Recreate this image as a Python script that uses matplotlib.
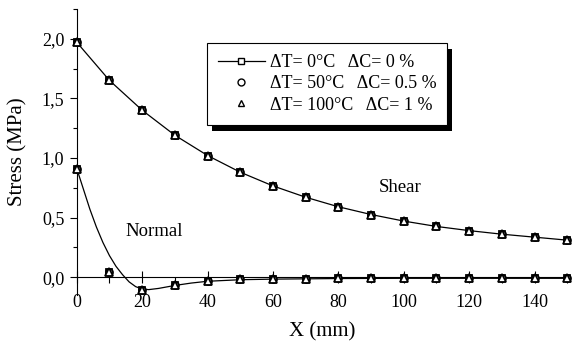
import numpy as np
import matplotlib.pyplot as plt
from matplotlib.patches import Rectangle
from matplotlib.ticker import MultipleLocator, FuncFormatter

plt.rcParams['font.family'] = ['Liberation Serif', 'DejaVu Serif']

# Pontos calculados (três casos sobrepostos)
x = [0, 10, 20, 30, 40, 50, 60, 70, 80, 90, 100, 110, 120, 130, 140, 150]
shear = [1.97, 1.65, 1.40, 1.19, 1.02, 0.88, 0.765, 0.67, 0.59, 0.525, 0.47, 0.425, 0.39, 0.36, 0.335, 0.31]
normal = [0.91, 0.04, -0.11, -0.07, -0.035, -0.02, -0.02, -0.015, -0.01, -0.01, -0.01, -0.01, -0.01, -0.01, -0.01, -0.01]

# Curva suavizada da tensão normal
normal_line_x = [0, 2, 4, 6, 8, 10, 12, 14, 16, 18, 20, 22, 25, 30, 35, 40, 50, 60, 80, 100, 150]
normal_line_y = [0.91, 0.74, 0.57, 0.42, 0.29, 0.18, 0.09, 0.02, -0.04, -0.08, -0.10, -0.105, -0.095, -0.07, -0.05, -0.035, -0.022, -0.017, -0.012, -0.01, -0.01]

legend_labels = ['ΔT= 0°C   ΔC= 0 %', 'ΔT= 50°C   ΔC= 0.5 %', 'ΔT= 100°C   ΔC= 1 %']

fig = plt.figure(figsize=(5.73, 3.43), dpi=100)
ax = fig.add_axes([0.134, 0.140, 0.856, 0.834])

# Linhas
ax.plot(x, shear, color='black', linewidth=0.9)
ax.plot(normal_line_x, normal_line_y, color='black', linewidth=0.9)

# Marcadores
mk = dict(linestyle='none', markerfacecolor='white', markeredgecolor='black',
          markeredgewidth=1.3, clip_on=False, zorder=3)
for y in (shear, normal):
    ax.plot(x, y, marker='s', markersize=5, **mk)
    ax.plot(x, y, marker='o', markersize=5, **mk)
    ax.plot(x, y, marker='^', markersize=5.5, **mk)

# Entradas da legenda
h1, = ax.plot([], [], color='black', linewidth=0.9, marker='s', markersize=5,
              markerfacecolor='white', markeredgecolor='black')
h2, = ax.plot([], [], linestyle='none', marker='o', markersize=5,
              markerfacecolor='white', markeredgecolor='black')
h3, = ax.plot([], [], linestyle='none', marker='^', markersize=5,
              markerfacecolor='white', markeredgecolor='black')
leg = ax.legend([h1, h2, h3], legend_labels, loc='upper left',
                bbox_to_anchor=(0.265, 0.88), borderaxespad=0, fontsize=13,
                frameon=True, fancybox=False, handlelength=2.6,
                borderpad=0.6, labelspacing=0.24, handletextpad=0.3)
leg.get_frame().set_edgecolor('black')
leg.get_frame().set_linewidth(0.8)
leg.get_frame().set_alpha(1)

ax.text(99, 0.75, 'Shear', fontsize=13.5, ha='center', va='center')
ax.text(23.6, 0.38, 'Normal', fontsize=13.5, ha='center', va='center')

ax.set_xlim(0, 150)
ax.set_ylim(-0.15, 2.25)
ax.spines['top'].set_visible(False)
ax.spines['right'].set_visible(False)
ax.spines['bottom'].set_position(('data', 0))
ax.spines['left'].set_bounds(-0.15, 2.25)

ax.xaxis.set_major_locator(MultipleLocator(20))
ax.xaxis.set_minor_locator(MultipleLocator(10))
ax.yaxis.set_major_locator(MultipleLocator(0.5))
ax.yaxis.set_minor_locator(MultipleLocator(0.25))
ax.yaxis.set_major_formatter(FuncFormatter(lambda v, p: f'{v:.1f}'.replace('.', ',')))

ax.tick_params(axis='x', which='major', direction='inout', length=9, width=0.8, labelsize=13, pad=8)
ax.tick_params(axis='x', which='minor', direction='out', length=4, width=0.8)
ax.tick_params(axis='y', which='major', direction='out', length=5, width=0.8, labelsize=13, pad=4)
ax.tick_params(axis='y', which='minor', direction='out', length=3, width=0.8)

ax.set_xlabel('X (mm)', fontsize=15, labelpad=8)
ax.set_ylabel('Stress (MPa)', fontsize=15, labelpad=10)

# Sombra preta da legenda
fig.canvas.draw()
bb = leg.get_window_extent()
sombra = Rectangle((bb.x0 + 5, bb.y0 - 6), bb.width, bb.height, transform=None,
                   facecolor='black', edgecolor='none', zorder=leg.get_zorder() - 0.1)
ax.add_artist(sombra)

fig.savefig('out.png', dpi=100)
